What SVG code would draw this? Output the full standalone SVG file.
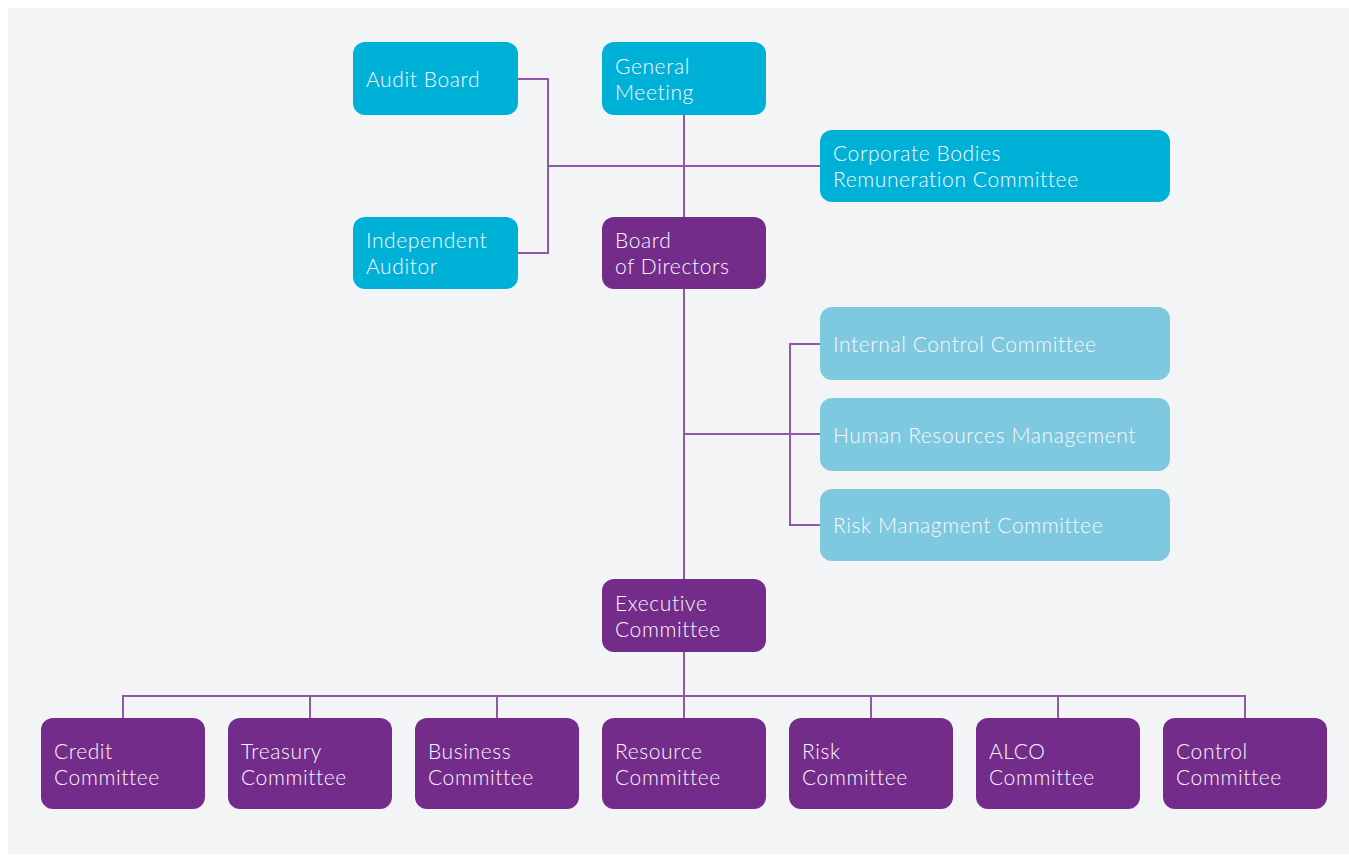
<svg xmlns="http://www.w3.org/2000/svg" width="1349" height="855" viewBox="0 0 1349 855">
  <style>
    .cyan { fill: #00B1D7; }
    .purple { fill: #742C8B; }
    .pale { fill: #7EC9E0; }
    .link { fill: none; stroke: #9158A8; stroke-width: 2; }
    text { font-family: Lato, "Noto Sans", "Liberation Sans", sans-serif; font-weight: 300; font-size: 21px; letter-spacing: 0.6px; fill: #FAF7FC; }
  </style>
  <rect x="0" y="0" width="1349" height="855" fill="#FFFFFF"/>
  <rect x="8" y="8" width="1341" height="846" fill="#F3F4F6"/>

  <g id="connectors">
    <!-- governance bodies around the General Meeting -->
    <polyline class="link" points="517,79 548,79 548,253 517,253"/>
    <line class="link" x1="548" y1="166" x2="820" y2="166"/>
    <line class="link" x1="684" y1="115" x2="684" y2="579"/>
    <!-- board committees -->
    <line class="link" x1="684" y1="434" x2="820" y2="434"/>
    <polyline class="link" points="820,344 790,344 790,525 820,525"/>
    <!-- executive committee bus -->
    <line class="link" x1="684" y1="652" x2="684" y2="718"/>
    <polyline class="link" points="123,718 123,696 1245,696 1245,718"/>
    <line class="link" x1="310" y1="696" x2="310" y2="718"/>
    <line class="link" x1="497" y1="696" x2="497" y2="718"/>
    <line class="link" x1="871" y1="696" x2="871" y2="718"/>
    <line class="link" x1="1058" y1="696" x2="1058" y2="718"/>
  </g>

  <g id="audit-board">
    <rect class="cyan" x="353" y="42" width="165" height="73" rx="12"/>
    <text x="366" y="87">Audit Board</text>
  </g>
  <g id="general-meeting">
    <rect class="cyan" x="602" y="42" width="164" height="73" rx="12"/>
    <text x="615" y="74">General</text>
    <text x="615" y="100">Meeting</text>
  </g>
  <g id="remuneration-committee">
    <rect class="cyan" x="820" y="130" width="350" height="72" rx="12"/>
    <text x="833" y="161">Corporate Bodies</text>
    <text x="833" y="187">Remuneration Committee</text>
  </g>
  <g id="independent-auditor">
    <rect class="cyan" x="353" y="217" width="165" height="72" rx="12"/>
    <text x="366" y="248">Independent</text>
    <text x="366" y="274">Auditor</text>
  </g>
  <g id="board-of-directors">
    <rect class="purple" x="602" y="217" width="164" height="72" rx="12"/>
    <text x="615" y="248">Board</text>
    <text x="615" y="274">of Directors</text>
  </g>

  <g id="internal-control-committee">
    <rect class="pale" x="820" y="307" width="350" height="73" rx="12"/>
    <text x="833" y="352">Internal Control Committee</text>
  </g>
  <g id="human-resources-management">
    <rect class="pale" x="820" y="398" width="350" height="73" rx="12"/>
    <text x="833" y="443">Human Resources Management</text>
  </g>
  <g id="risk-management-committee">
    <rect class="pale" x="820" y="489" width="350" height="72" rx="12"/>
    <text x="833" y="533">Risk Managment Committee</text>
  </g>

  <g id="executive-committee">
    <rect class="purple" x="602" y="579" width="164" height="73" rx="12"/>
    <text x="615" y="611">Executive</text>
    <text x="615" y="637">Committee</text>
  </g>

  <g id="credit-committee">
    <rect class="purple" x="41" y="718" width="164" height="91" rx="12"/>
    <text x="54" y="759">Credit</text>
    <text x="54" y="785">Committee</text>
  </g>
  <g id="treasury-committee">
    <rect class="purple" x="228" y="718" width="164" height="91" rx="12"/>
    <text x="241" y="759">Treasury</text>
    <text x="241" y="785">Committee</text>
  </g>
  <g id="business-committee">
    <rect class="purple" x="415" y="718" width="164" height="91" rx="12"/>
    <text x="428" y="759">Business</text>
    <text x="428" y="785">Committee</text>
  </g>
  <g id="resource-committee">
    <rect class="purple" x="602" y="718" width="164" height="91" rx="12"/>
    <text x="615" y="759">Resource</text>
    <text x="615" y="785">Committee</text>
  </g>
  <g id="risk-committee">
    <rect class="purple" x="789" y="718" width="164" height="91" rx="12"/>
    <text x="802" y="759">Risk</text>
    <text x="802" y="785">Committee</text>
  </g>
  <g id="alco-committee">
    <rect class="purple" x="976" y="718" width="164" height="91" rx="12"/>
    <text x="989" y="759">ALCO</text>
    <text x="989" y="785">Committee</text>
  </g>
  <g id="control-committee">
    <rect class="purple" x="1163" y="718" width="164" height="91" rx="12"/>
    <text x="1176" y="759">Control</text>
    <text x="1176" y="785">Committee</text>
  </g>
</svg>
